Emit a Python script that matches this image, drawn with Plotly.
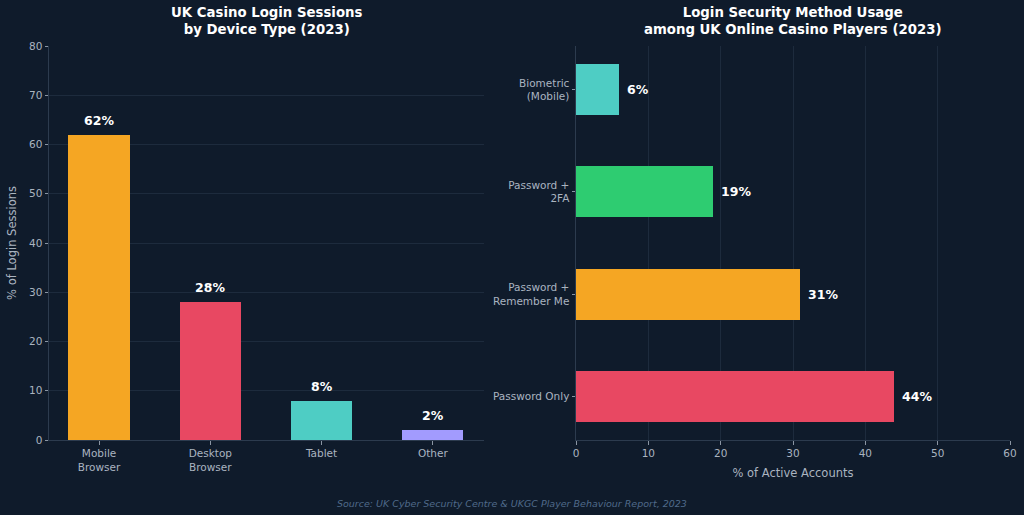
import plotly.graph_objects as go

# Data
devices = ["Mobile<br>Browser", "Desktop<br>Browser", "Tablet", "Other"]
device_share = [62, 28, 8, 2]
device_colors = ["#F5A623", "#E84862", "#4ECDC4", "#A29BFE"]

methods = ["Password Only", "Password +<br>Remember Me", "Password +<br>2FA", "Biometric<br>(Mobile)"]
method_share = [44, 31, 19, 6]
method_colors = ["#E84862", "#F5A623", "#2ECC71", "#4ECDC4"]

left_ticks = [0, 10, 20, 30, 40, 50, 60, 70, 80]
right_ticks = [0, 10, 20, 30, 40, 50, 60]

BG = "#0f1b2b"
GRID = "#1d2b3d"
SPINE = "#2c3b4e"
TICK = "#aab4c0"
TICKMARK = "#8a95a3"
FONT = "DejaVu Sans"

fig = go.Figure()

fig.add_trace(go.Bar(
    x=list(range(len(devices))), y=device_share, marker=dict(color=device_colors, line=dict(width=0)),
    width=0.55, xaxis="x", yaxis="y", showlegend=False, hoverinfo="skip"))

fig.add_trace(go.Bar(
    y=list(range(len(methods))), x=method_share, orientation="h",
    marker=dict(color=method_colors, line=dict(width=0)),
    width=0.5, xaxis="x2", yaxis="y2", showlegend=False, hoverinfo="skip"))

annotations = []
for i, v in enumerate(device_share):
    annotations.append(dict(x=i, y=v, xref="x", yref="y", text=f"<b>{v}%</b>", showarrow=False,
                            yanchor="bottom", yshift=5, font=dict(family=FONT, size=12.5, color="white")))
for i, v in enumerate(method_share):
    annotations.append(dict(x=v, y=i, xref="x2", yref="y2", text=f"<b>{v}%</b>", showarrow=False,
                            xanchor="left", xshift=6, font=dict(family=FONT, size=12.5, color="white")))

annotations += [
    dict(x=0.2603, y=1 - 3 / 515, xref="paper", yref="paper", xanchor="center", yanchor="top",
         text="<b>UK Casino Login Sessions<br>by Device Type (2023)</b>", showarrow=False,
         font=dict(family=FONT, size=13.3, color="white")),
    dict(x=0.7744, y=1 - 3 / 515, xref="paper", yref="paper", xanchor="center", yanchor="top",
         text="<b>Login Security Method Usage<br>among UK Online Casino Players (2023)</b>", showarrow=False,
         font=dict(family=FONT, size=13.3, color="white")),
    dict(x=0.5, y=1 - 503 / 515, xref="paper", yref="paper", xanchor="center", yanchor="middle",
         text="<i>Source: UK Cyber Security Centre &amp; UKGC Player Behaviour Report, 2023</i>", showarrow=False,
         font=dict(family=FONT, size=9.5, color="#4f6a8a")),
]

axis_common = dict(showline=True, linecolor=SPINE, linewidth=1, ticks="outside", tickcolor=TICKMARK,
                   ticklen=3.5, tickfont=dict(family=FONT, size=10.5, color=TICK), zeroline=False,
                   automargin=False)

fig.update_layout(
    width=1024, height=515, margin=dict(l=0, r=0, t=0, b=0),
    paper_bgcolor=BG, plot_bgcolor=BG, bargap=0,
    font=dict(family=FONT, color=TICK),
    annotations=annotations,
    xaxis=dict(domain=[49 / 1024, 484 / 1024], range=[-0.45, 3.46], tickmode="array",
               tickvals=list(range(len(devices))), ticktext=devices, showgrid=False, anchor="y", **axis_common),
    yaxis=dict(domain=[1 - 440 / 515, 1 - 46 / 515], range=[0, 80], tickvals=left_ticks,
               showgrid=True, gridcolor=GRID, gridwidth=1, anchor="x",
               title=dict(text="% of Login Sessions", font=dict(family=FONT, size=11.5, color=TICK), standoff=10),
               **axis_common),
    xaxis2=dict(domain=[576 / 1024, 1010 / 1024], range=[0, 60], tickvals=right_ticks,
                showgrid=True, gridcolor=GRID, gridwidth=1, anchor="y2",
                title=dict(text="% of Active Accounts", font=dict(family=FONT, size=11.5, color=TICK), standoff=10),
                **axis_common),
    yaxis2=dict(domain=[1 - 440 / 515, 1 - 46 / 515], range=[-0.43, 3.43], tickmode="array",
                tickvals=list(range(len(methods))), ticktext=methods, showgrid=False, anchor="x2", **axis_common),
)

fig.write_html("out.html")
